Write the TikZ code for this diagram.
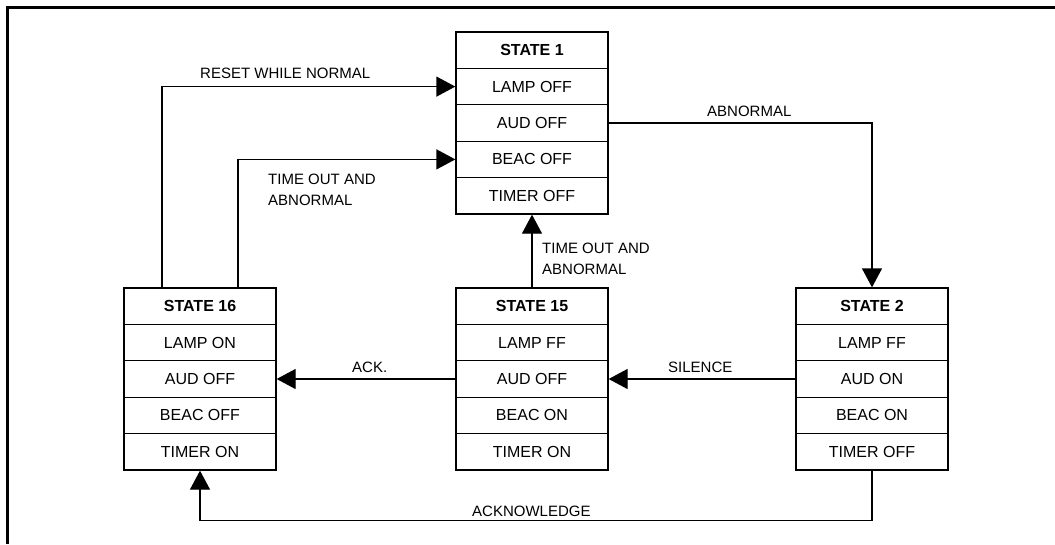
\documentclass[tikz,border=0pt]{standalone}
\usepackage{fontspec}
\setmainfont{Liberation Sans}
\usetikzlibrary{arrows.meta}
\tikzset{
  cell/.style={draw, line width=1.3pt, minimum width=152pt, minimum height=36.4pt,
    inner sep=0pt, font=\fontsize{16}{19}\selectfont},
  title/.style={cell, font=\fontsize{16}{19}\selectfont\bfseries},
  trans/.style={line width=1.3pt, -{Triangle[length=19pt,width=20pt]}},
  lbl/.style={anchor=base west, inner sep=0pt, font=\fontsize{15}{18}\selectfont}
}
% state box: name, left, top, title, four rows
\newcommand\statebox[8]{%
  \node[title] (#1r0) at (#2+76,#3+18.2) {#4};
  \node[cell] (#1r1) at (#2+76,#3+54.6) {#5};
  \node[cell] (#1r2) at (#2+76,#3+91) {#6};
  \node[cell] (#1r3) at (#2+76,#3+127.4) {#7};
  \node[cell] (#1r4) at (#2+76,#3+163.8) {#8};
}
\begin{document}
\begin{tikzpicture}[x=1pt,y=-1pt]
  \useasboundingbox (0,0) rectangle (1055,544);
  \draw[line width=3pt] (7.5,544) -- (7.5,7.5) -- (1055,7.5);

  \statebox{s1}{456}{32}{STATE 1}{LAMP OFF}{AUD OFF}{BEAC OFF}{TIMER OFF}
  \statebox{s16}{124}{288}{STATE 16}{LAMP ON}{AUD OFF}{BEAC OFF}{TIMER ON}
  \statebox{s15}{456}{288}{STATE 15}{LAMP FF}{AUD OFF}{BEAC ON}{TIMER ON}
  \statebox{s2}{796}{288}{STATE 2}{LAMP FF}{AUD ON}{BEAC ON}{TIMER OFF}

  % transitions
  \draw[trans] ([xshift=-38pt]s16r0.north) |- (s1r1.west);
  \draw[trans] ([xshift=38pt]s16r0.north) |- (s1r3.west);
  \draw[trans] (s1r2.east) -| (s2r0.north);
  \draw[trans] (s15r0.north) -- (s1r4.south);
  \draw[trans] (s2r2.west) -- (s15r2.east);
  \draw[trans] (s15r2.west) -- (s16r2.east);
  \draw[trans] (s2r4.south) -- ++(0,50) -| (s16r4.south);

  % labels
  \node[lbl] (lreset) at (200,78) {RESET WHILE NORMAL};
  \node[lbl] (ltoa) at (268,184) {TIME OUT AND};
  \node[lbl] (ltob) at (268,205) {ABNORMAL};
  \node[lbl] (labn) at (707,116) {ABNORMAL};
  \node[lbl] (lmida) at (542,253) {TIME OUT AND};
  \node[lbl] (lmidb) at (542,274) {ABNORMAL};
  \node[lbl] (lsil) at (668,372) {SILENCE};
  \node[lbl] (lack) at (352,372) {ACK.};
  \node[lbl] (lackn) at (472,516) {ACKNOWLEDGE};
\end{tikzpicture}
\end{document}
